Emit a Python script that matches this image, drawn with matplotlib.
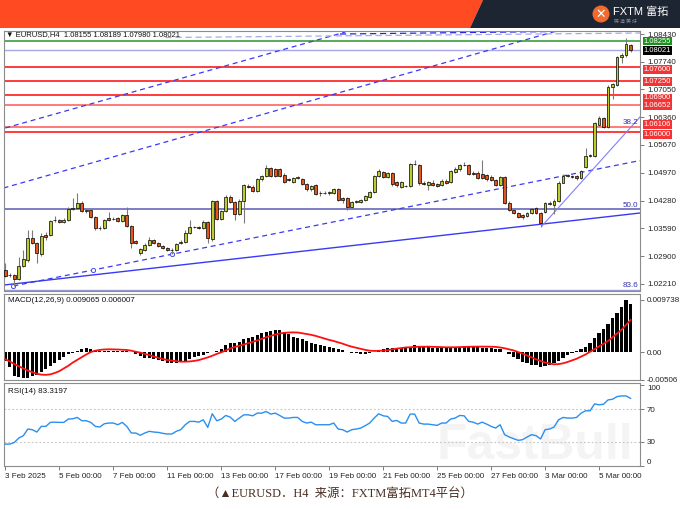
import numpy as np
import matplotlib
matplotlib.use('Agg')
import matplotlib.pyplot as plt
import matplotlib.transforms as mtransforms
from matplotlib.patches import Polygon, Ellipse

# ---- data (EURUSD H4) ----
opens = [1.0255, 1.0243, 1.0243, 1.0233, 1.0265, 1.0280, 1.0335, 1.0323, 1.0295, 1.0342,
         1.0342, 1.0379, 1.0380, 1.0375, 1.0380, 1.0407, 1.0410, 1.0423, 1.0402, 1.0405,
         1.0387, 1.0359, 1.0361, 1.0384, 1.0382, 1.0386, 1.0377, 1.0392, 1.0365, 1.0327,
         1.0298, 1.0306, 1.0318, 1.0330, 1.0323, 1.0315, 1.0310, 1.0305, 1.0305, 1.0322,
         1.0326, 1.0347, 1.0362, 1.0362, 1.0361, 1.0375, 1.0332, 1.0427, 1.0382, 1.0403,
         1.0436, 1.0425, 1.0395, 1.0428, 1.0465, 1.0463, 1.0453, 1.0482, 1.0490, 1.0509,
         1.0506, 1.0506, 1.0493, 1.0481, 1.0475, 1.0485, 1.0482, 1.0469, 1.0456, 1.0467,
         1.0448, 1.0447, 1.0446, 1.0448, 1.0456, 1.0434, 1.0434, 1.0413, 1.0425, 1.0425,
         1.0430, 1.0438, 1.0449, 1.0490, 1.0500, 1.0488, 1.0496, 1.0475, 1.0463, 1.0465,
         1.0464, 1.0519, 1.0517, 1.0473, 1.0467, 1.0473, 1.0469, 1.0467, 1.0478, 1.0474,
         1.0500, 1.0506, 1.0517, 1.0517, 1.0498, 1.0498, 1.0494, 1.0492, 1.0488, 1.0480,
         1.0467, 1.0486, 1.0423, 1.0405, 1.0398, 1.0392, 1.0390, 1.0398, 1.0409, 1.0397,
         1.0401, 1.0420, 1.0417, 1.0428, 1.0473, 1.0490, 1.0489, 1.0490, 1.0484, 1.0512,
         1.0539, 1.0539, 1.0616, 1.0633, 1.0612, 1.0712, 1.0716, 1.0786, 1.0790, 1.08155]
highs = [1.0273, 1.0248, 1.0245, 1.0289, 1.0305, 1.0355, 1.0355, 1.0326, 1.0348, 1.0350,
         1.0381, 1.0390, 1.0383, 1.0385, 1.0412, 1.0434, 1.0446, 1.0426, 1.0408, 1.0408,
         1.0390, 1.0366, 1.0383, 1.0400, 1.0388, 1.0388, 1.0395, 1.0413, 1.0368, 1.0330,
         1.0310, 1.0322, 1.0338, 1.0333, 1.0326, 1.0318, 1.0312, 1.0309, 1.0323, 1.0329,
         1.0355, 1.0380, 1.0366, 1.0365, 1.0381, 1.0378, 1.0430, 1.0430, 1.0406, 1.0442,
         1.0442, 1.0428, 1.0431, 1.0470, 1.0469, 1.0466, 1.0485, 1.0493, 1.0517, 1.0512,
         1.0509, 1.0509, 1.0496, 1.0484, 1.0487, 1.0489, 1.0485, 1.0472, 1.0468, 1.0470,
         1.0451, 1.0451, 1.0452, 1.0459, 1.0459, 1.0437, 1.0437, 1.0428, 1.0429, 1.0433,
         1.0443, 1.0453, 1.0493, 1.0506, 1.0503, 1.0499, 1.0499, 1.0478, 1.0478, 1.0468,
         1.0522, 1.0529, 1.0520, 1.0476, 1.0477, 1.0479, 1.0472, 1.0481, 1.0481, 1.0505,
         1.0513, 1.0520, 1.0525, 1.0520, 1.0501, 1.0501, 1.0529, 1.0495, 1.0491, 1.0483,
         1.0489, 1.0489, 1.0426, 1.0408, 1.0401, 1.0395, 1.0401, 1.0410, 1.0412, 1.0400,
         1.0425, 1.0426, 1.0431, 1.0476, 1.0495, 1.0495, 1.0492, 1.0493, 1.0505, 1.0558,
         1.0544, 1.0625, 1.0638, 1.0636, 1.0715, 1.0722, 1.0788, 1.0795, 1.0832, 1.08189]
lows = [1.0238, 1.0238, 1.0216, 1.0230, 1.0262, 1.0275, 1.0320, 1.0274, 1.0290, 1.0330,
        1.0340, 1.0376, 1.0372, 1.0373, 1.0377, 1.0405, 1.0408, 1.0400, 1.0398, 1.0386,
        1.0356, 1.0355, 1.0358, 1.0378, 1.0379, 1.0375, 1.0375, 1.0362, 1.0310, 1.0320,
        1.0293, 1.0303, 1.0315, 1.0320, 1.0312, 1.0307, 1.0302, 1.0295, 1.0302, 1.0319,
        1.0323, 1.0344, 1.0359, 1.0358, 1.0358, 1.0322, 1.0328, 1.0379, 1.0379, 1.0400,
        1.0422, 1.0380, 1.0392, 1.0373, 1.0460, 1.0450, 1.0450, 1.0478, 1.0487, 1.0487,
        1.0487, 1.0487, 1.0472, 1.0476, 1.0472, 1.0482, 1.0466, 1.0453, 1.0453, 1.0442,
        1.0440, 1.0444, 1.0443, 1.0445, 1.0427, 1.0422, 1.0405, 1.0410, 1.0422, 1.0422,
        1.0427, 1.0435, 1.0446, 1.0487, 1.0485, 1.0485, 1.0465, 1.0463, 1.0460, 1.0461,
        1.0461, 1.0516, 1.0468, 1.0466, 1.0455, 1.0464, 1.0462, 1.0464, 1.0470, 1.0471,
        1.0497, 1.0503, 1.0514, 1.0491, 1.0491, 1.0481, 1.0481, 1.0478, 1.0477, 1.0464,
        1.0464, 1.0420, 1.0402, 1.0395, 1.0384, 1.0382, 1.0387, 1.0395, 1.0394, 1.0363,
        1.0398, 1.0417, 1.0395, 1.0425, 1.0471, 1.0487, 1.0485, 1.0479, 1.0481, 1.0509,
        1.0536, 1.0536, 1.0613, 1.0609, 1.0609, 1.0680, 1.0713, 1.0770, 1.0787, 1.07980]
closes = [1.0240, 1.0242, 1.0233, 1.0265, 1.0282, 1.0335, 1.0323, 1.0297, 1.0340, 1.0337,
          1.0378, 1.0381, 1.0375, 1.0381, 1.0407, 1.0410, 1.0423, 1.0402, 1.0405, 1.0388,
          1.0359, 1.0361, 1.0380, 1.0380, 1.0383, 1.0377, 1.0392, 1.0365, 1.0322, 1.0323,
          1.0307, 1.0318, 1.0330, 1.0323, 1.0315, 1.0310, 1.0305, 1.0306, 1.0320, 1.0326,
          1.0347, 1.0362, 1.0363, 1.0361, 1.0375, 1.0334, 1.0428, 1.0382, 1.0403, 1.0438,
          1.0425, 1.0395, 1.0428, 1.0467, 1.0463, 1.0453, 1.0482, 1.0490, 1.0509, 1.0490,
          1.0490, 1.0490, 1.0475, 1.0480, 1.0484, 1.0486, 1.0469, 1.0456, 1.0465, 1.0445,
          1.0447, 1.0448, 1.0450, 1.0456, 1.0430, 1.0430, 1.0413, 1.0425, 1.0426, 1.0430,
          1.0440, 1.0450, 1.0490, 1.0502, 1.0488, 1.0496, 1.0470, 1.0467, 1.0475, 1.0464,
          1.0519, 1.0520, 1.0471, 1.0469, 1.0474, 1.0467, 1.0465, 1.0478, 1.0473, 1.0502,
          1.0506, 1.0517, 1.0518, 1.0494, 1.0494, 1.0484, 1.0484, 1.0481, 1.0480, 1.0467,
          1.0486, 1.0423, 1.0405, 1.0398, 1.0387, 1.0387, 1.0398, 1.0407, 1.0397, 1.0373,
          1.0422, 1.0423, 1.0428, 1.0473, 1.0490, 1.0491, 1.0488, 1.0484, 1.0502, 1.0539,
          1.0541, 1.0622, 1.0635, 1.0612, 1.0712, 1.0718, 1.0785, 1.0790, 1.0818, 1.08021]

# MACD main (histogram) and signal, in units of 1e-4
macd_main = [-15.5, -26.7, -44, -46.5, -48.4, -48.4, -45, -42, -36, -31.6,
             -25.4, -19.2, -14.3, -8, -3.7, -1.9, 2.5, 5.6, 7.4, 6.2,
             4.3, 3.1, 2.5, 2.5, 2.5, 3.1, 3.1, 2.5, 1.2, -3.1,
             -6.8, -9.9, -11.2, -12.4, -14.3, -16.7, -19.2, -20.5, -19.2, -18,
             -15.5, -13, -9.3, -6.8, -4.3, -1.9, 0.6, 3.1, 6.8, 13.6,
             16.7, 18, 19.8, 24.2, 26, 29, 32.2, 35.3, 38.4, 40.3,
             41.5, 41.5, 38.4, 33.5, 29, 26, 24.2, 21.7, 18, 15.5,
             13.6, 11.8, 9.9, 8, 6.2, 4.3, 0.6, -1.2, -1.9, -2.5,
             -2.5, -1.9, 0.6, 4.3, 6.2, 8, 8.7, 8.7, 7.4, 7.4,
             10.5, 13.6, 11.8, 10.5, 9.3, 8.7, 7.4, 7.4, 7.4, 8,
             9.3, 10.5, 11.8, 11.8, 10.5, 9.3, 8.7, 8, 7.4, 6.2,
             5.6, 1.2, -3.1, -8, -13, -17.4, -20.5, -22.9, -24.2, -26.7,
             -25.4, -23.6, -20.5, -15.5, -9.9, -5, -0.6, 2.5, 5.6, 10.5,
             16.7, 26, 35.3, 44, 53, 63, 74, 85, 97.38, 90.65]
macd_signal = [-13, -17, -22, -26, -30, -34, -37, -40, -41.5, -42,
               -41, -38.5, -35, -30, -25, -19, -14, -9, -4, 0.5,
               3, 4.5, 5.3, 5.6, 5.5, 5.2, 4.8, 4.3, 3, 1,
               -0.6, -3, -5, -8, -10, -12.5, -14.3, -15.5, -16.5, -17.4,
               -17.4, -17, -16, -14.5, -12, -9.5, -6.5, -3, 0, 3.5,
               7, 10, 12, 14.5, 17, 19.5, 22, 25, 28, 30.5,
               33, 35, 36.2, 36.8, 37, 36.8, 35.5, 34, 32.5, 30.5,
               28, 25.5, 23, 21, 18.6, 16, 13, 10.5, 8.5, 6.5,
               4.5, 3, 2.5, 2.7, 3.1, 4, 5.5, 6.8, 8, 9,
               9.5, 10, 10.3, 10.5, 10.5, 10.2, 9.8, 9.4, 9.3, 9.3,
               9.4, 9.6, 10, 10.3, 10.5, 10.6, 10.6, 10.5, 10.4, 10,
               9, 7.5, 5.5, 3.5, 0.5, -2.5, -6, -9.5, -13, -16,
               -19, -21, -22.3, -22, -20.5, -18, -15, -12, -8, -4,
               1, 6, 11, 16, 21, 28, 35, 42, 51, 60.07]
rsi = [27, 27, 29, 34.5, 37.3, 45.5, 44.7, 41.8, 48.8, 48.8,
       53.7, 54, 53.7, 53.7, 57.8, 58.2, 59.8, 55.7, 55.7, 53.7,
       48.8, 48, 52, 52.9, 52.9, 50.8, 53.7, 48.8, 40.6, 40.6,
       37.8, 40.6, 42.7, 41.8, 41.4, 40.2, 39.4, 39.4, 42.7, 44.7,
       50.8, 54.9, 54.9, 54, 56.9, 47.6, 64.3, 55.7, 57.8, 62.2,
       60.2, 54.9, 59, 63, 63, 61.8, 65.1, 65.1, 67.1, 63.9,
       65.1, 62.2, 59, 59, 59.8, 59.8, 54.9, 52.9, 54, 50.8,
       50.8, 50.8, 50.8, 52.9, 45.5, 44.7, 41.8, 44.7, 45.5, 46.7,
       49.6, 52.9, 59, 64.3, 61.8, 61, 54.9, 56.1, 52.9, 52.9,
       63.9, 63.9, 52.9, 51.6, 51.6, 50.8, 50, 52.9, 52.9, 57.8,
       59, 62.2, 61.8, 54.9, 54, 51.6, 54, 51.6, 48.8, 46.7,
       50.8, 38.6, 35.7, 33.7, 31.6, 32.4, 35.7, 38.6, 37.3, 33.3,
       44.7, 45.5, 48, 56.9, 59.8, 59, 59, 59.8, 65.1, 68,
       68, 76.5, 75.3, 76.1, 81.4, 82.2, 85.5, 86.3, 86.3, 83.32]

date_labels = ['3 Feb 2025', '5 Feb 00:00', '7 Feb 00:00', '11 Feb 00:00', '13 Feb 00:00',
               '17 Feb 00:00', '19 Feb 00:00', '21 Feb 00:00', '25 Feb 00:00',
               '27 Feb 00:00', '3 Mar 00:00', '5 Mar 00:00']
date_bars = [0, 12, 24, 36, 48, 60, 72, 84, 96, 108, 120, 132]

price_ticks = [1.08430, 1.07740, 1.07050, 1.06360, 1.05670, 1.04970,
               1.04280, 1.03590, 1.02900, 1.02210]
red_levels = [1.07600, 1.07250, 1.06900, 1.06652, 1.06106, 1.06000]
red_colors = ['#ff1a1a', '#ff1a1a', '#ff1a1a', '#ff6464', '#ff6464', '#ff1a1a']
red_label_shift = [-1.8, 0, -1.8, 0, 2.0, -2.0]   # points, keeps boxes clear of tick labels
green_level = 1.08255
last_price = 1.08021
fib_levels = [1.06130, 1.04065, 1.02068]
fib_names = ['38.2', '50.0', '83.6']

# trend lines: (bar, price) start and end
trend_lines = [
    ((-0.4, 1.04596), (123.3, 1.08530), '#3a3af5', (4, 3), 0.9),   # upper channel
    ((0.0, 1.06090), (75.6, 1.08480), '#3a3af5', (4, 3), 0.9),
    ((1.78, 1.02156), (141.1, 1.05280), '#3a3af5', (4, 3), 0.9),    # lower dashed
    ((-0.3, 1.02180), (141.1, 1.03973), '#3a3af5', None, 1.0),      # solid support
    ((119.3, 1.03650), (141.1, 1.06364), '#8080ff', None, 0.8),     # from swing low
    ((35.6, 1.08343), (141.1, 1.08455), '#a8a8ec', (5, 3), 0.9),
    ((74.4, 1.08430), (141.1, 1.08518), '#2424e6', (5, 3), 0.9),
]
anchor_bars = [1.78, 19.56, 37.1]
anchor_prices = [1.02156, 1.02554, 1.02953]

W, H = 680, 509
fig = plt.figure(figsize=(W / 100, H / 100), dpi=100)
fig.patch.set_facecolor('white')

def fx(x):
    return x / W

def fy(y):
    return 1 - y / H

LBL = dict(fontsize=5.8, family=['Liberation Sans', 'DejaVu Sans'])
spine_col = '#8c8c8c'

# ---- top banner ----
fig.add_artist(Polygon([(0, 1), (fx(483), 1), (fx(470), fy(28)), (0, fy(28))],
                       closed=True, transform=fig.transFigure, fc='#ff4a22', ec='none'))
fig.add_artist(Polygon([(fx(483), 1), (1, 1), (1, fy(28)), (fx(470), fy(28))],
                       closed=True, transform=fig.transFigure, fc='#1d2432', ec='none'))
fig.add_artist(Ellipse((fx(601), fy(14)), 17 / W, 17 / H, transform=fig.transFigure,
                       fc='#f26a2e', ec='none'))
fig.text(fx(601), fy(14), '✕', color='white', ha='center', va='center', fontsize=9,
         fontweight='bold', family='DejaVu Sans')
fig.text(fx(613), fy(11.5), 'FXTM 富拓', color='white', ha='left', va='center',
         fontsize=8, family=['Liberation Sans', 'Noto Sans CJK SC'])
fig.text(fx(614), fy(21.5), '铸 造 美 好', color='#8a8f99', ha='left', va='center',
         fontsize=3.5, family=['Noto Sans CJK SC'])

# ---- panels ----
ax = fig.add_axes([fx(4), fy(291), fx(636), 260.3 / H])
axm = fig.add_axes([fx(4), fy(380), fx(636), 86 / H])
axr = fig.add_axes([fx(4), fy(466), fx(636), 83 / H])

idx = np.arange(len(closes))
o = np.array(opens); c = np.array(closes)
h = np.array(highs); l = np.array(lows)
up = c >= o

for a in (ax, axm, axr):
    a.set_xlim(-0.3, 141.1)
    a.yaxis.tick_right()
    a.tick_params(axis='y', length=3, width=0.6, color='#666666', pad=2,
                  labelsize=5.8, labelcolor='#222222')
    for s in a.spines.values():
        s.set_color(spine_col)
        s.set_linewidth(0.8)

# main chart
ax.set_ylim(1.02031, 1.08513)
ax.set_xticks([])
ax.set_yticks(price_ticks)
ax.set_yticklabels(['%.5f' % t for t in price_ticks], family='Liberation Sans')

for lev, col in zip(red_levels, red_colors):
    ax.axhline(lev, color=col, lw=1.2, zorder=1)
ax.axhline(green_level, color='#2a962a', lw=1.1, zorder=1)
ax.axhline(last_price, color='#a8a8e8', lw=1.0, zorder=1)
ax.axhline(fib_levels[1], color='#5a5ab4', lw=1.1, zorder=1)
ax.axhline(fib_levels[2], color='#9a9ad0', lw=1.0, zorder=1)

for p0, p1, col, dash, lw in trend_lines:
    ln, = ax.plot([p0[0], p1[0]], [p0[1], p1[1]], color=col, lw=lw, zorder=1.5)
    if dash:
        ln.set_dashes(dash)
ax.plot(anchor_bars, anchor_prices, 'o', mfc='white', mec='#4a4af0', ms=3, mew=0.7, zorder=1.6)

ax.vlines(idx, l, h, color='#7a7a7a', lw=0.8, zorder=2)
ax.bar(idx, np.maximum(np.abs(c - o), 0.00003), bottom=np.minimum(o, c), width=0.62,
       color=np.where(up, '#bccb2f', '#e2571d'), edgecolor='black', linewidth=0.5, zorder=3)

blend = mtransforms.blended_transform_factory(ax.transAxes, ax.transData)
for nm, lev in zip(fib_names, fib_levels):
    ax.text(0.997, lev + 0.0009, nm, transform=blend, ha='right', va='center',
            color='#3030a8', **LBL)

def price_box(y, fc, shift=0):
    ax.annotate('%.5f' % y, xy=(1.006, y), xycoords=blend, xytext=(0, shift),
                textcoords='offset points', ha='left', va='center', color='white',
                fontsize=5.5, family='Liberation Sans',
                bbox=dict(boxstyle='square,pad=0.12', fc=fc, ec='none'),
                annotation_clip=False, zorder=5)

for lev, dy in zip(red_levels, red_label_shift):
    price_box(lev, '#f43434', dy)
price_box(green_level, '#17931a')
price_box(last_price, '#000000')

fig.text(fx(6), fy(35), '▼ EURUSD,H4  1.08155 1.08189 1.07980 1.08021',
         ha='left', va='center', color='#111111', fontsize=5.5,
         family=['Liberation Sans', 'DejaVu Sans'])

# MACD
m = np.array(macd_main) * 1e-4
sg = np.array(macd_signal) * 1e-4
axm.set_ylim(-0.005152, 0.010844)
axm.set_xticks([])
axm.bar(idx, m, width=0.72, color='black', zorder=2)
axm.plot(idx, sg, color='#ff1010', lw=1.3, zorder=3)
axm.set_yticks([0.009738, 0.0, -0.00506])
axm.set_yticklabels(['0.009738', '0.00', '-0.00506'], family='Liberation Sans')
axm.text(0.006, 0.925, 'MACD(12,26,9) 0.009065 0.006007', transform=axm.transAxes,
         ha='left', va='center', color='#111111', **LBL)

# RSI
axr.set_ylim(0.6, 102.2)
axr.text(0.68, 0.24, 'FastBull', transform=axr.transAxes, ha='left', va='center',
         fontsize=35.8, fontweight='bold', color='#f4f4f4', family='Liberation Sans',
         zorder=0.5)
axr.axhline(70, color='#c4c4c4', lw=0.8, ls=(0, (1.5, 2)), zorder=1)
axr.axhline(30, color='#c4c4c4', lw=0.8, ls=(0, (1.5, 2)), zorder=1)
axr.plot(idx, rsi, color='#2a8ff0', lw=1.0, zorder=3)
axr.set_yticks([100, 70, 30, 0])
axr.set_yticklabels(['100', '70', '30', '0'], family='Liberation Sans')
tl = axr.get_yticklabels()
tl[0].set_va('top')
tl[3].set_va('bottom')
axr.text(0.006, 0.9, 'RSI(14) 83.3197', transform=axr.transAxes, ha='left', va='center',
         color='#111111', **LBL)
axr.set_xticks(date_bars)
axr.set_xticklabels(date_labels, family='Liberation Sans')
axr.tick_params(axis='x', length=3, width=0.6, color='#666666', pad=2, labelsize=5.8,
                labelcolor='#222222')
for t in axr.get_xticklabels():
    t.set_ha('left')

fig.text(0.5, fy(494), '（▲EURUSD．H4  来源：FXTM富拓MT4平台）', ha='center', va='center',
         fontsize=8.9, color='#4a2e22', family=['Liberation Serif', 'Noto Sans CJK SC'])

fig.savefig('out.png', dpi=100)
